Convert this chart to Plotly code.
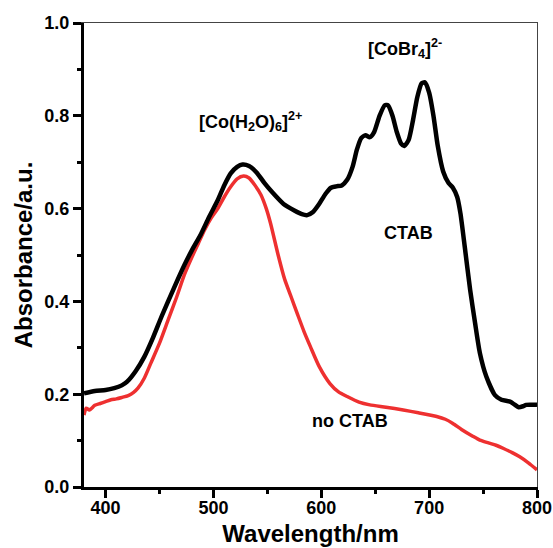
import plotly.graph_objects as go

# CTAB (black)
ctab_x = [380, 390, 400, 408, 415, 420, 428, 436, 444, 452, 464, 473, 480, 488, 496, 504, 510, 516, 522, 527,
          533, 540, 547, 555, 565, 575, 582, 587, 592, 598, 604, 609, 614, 619, 624, 629, 633, 637, 641, 645,
          649, 654, 659, 662, 666, 670, 674, 677, 681, 685, 689, 693, 696, 700, 704, 708, 713, 718, 722, 726,
          729, 733, 738, 742.6, 747, 753, 761, 767, 775, 779, 783, 787, 790, 800]
ctab_y = [0.202, 0.207, 0.209, 0.213, 0.219, 0.227, 0.25, 0.281, 0.322, 0.368, 0.432, 0.478, 0.51, 0.543, 0.582,
          0.618, 0.65, 0.676, 0.690, 0.695, 0.692, 0.678, 0.656, 0.634, 0.610, 0.596, 0.588, 0.586, 0.592, 0.61,
          0.632, 0.645, 0.648, 0.65, 0.662, 0.69, 0.727, 0.752, 0.758, 0.754, 0.765, 0.80, 0.823, 0.822, 0.800,
          0.765, 0.740, 0.735, 0.748, 0.79, 0.84, 0.870, 0.872, 0.850, 0.800, 0.735, 0.680, 0.655, 0.645, 0.625,
          0.59, 0.518, 0.425, 0.353, 0.289, 0.238, 0.198, 0.188, 0.184, 0.178, 0.172, 0.174, 0.177, 0.177]

# no CTAB (red)
noctab_x = [380, 382, 385, 390, 395, 400, 405, 410, 415, 421, 426, 430, 436, 442, 450, 458, 466, 473, 480, 486,
            492, 498, 504, 510, 516, 522, 528, 533, 538, 544, 549, 553, 560, 566, 572, 578, 584, 590, 598, 608,
            616, 624, 635, 645, 660, 676, 690, 707, 715, 722, 730, 740, 747, 755, 762, 769, 777, 784, 792, 800]
noctab_y = [0.155, 0.170, 0.166, 0.176, 0.180, 0.184, 0.188, 0.190, 0.193, 0.197, 0.204, 0.213, 0.235, 0.267,
            0.31, 0.36, 0.41, 0.457, 0.495, 0.525, 0.555, 0.58, 0.60, 0.625, 0.647, 0.664, 0.670, 0.666, 0.652,
            0.630, 0.60, 0.568, 0.50, 0.448, 0.41, 0.372, 0.335, 0.302, 0.26, 0.223, 0.205, 0.195, 0.183, 0.177,
            0.172, 0.166, 0.160, 0.152, 0.146, 0.137, 0.124, 0.110, 0.101, 0.095, 0.090, 0.083, 0.074, 0.065,
            0.052, 0.037]

x_ticks = [400, 500, 600, 700, 800]
y_ticks = [0.0, 0.2, 0.4, 0.6, 0.8, 1.0]
y_tick_labels = ["0.0", "0.2", "0.4", "0.6", "0.8", "1.0"]

FONT = "Liberation Sans"

fig = go.Figure()
fig.add_trace(go.Scatter(x=noctab_x, y=noctab_y, mode="lines", name="no CTAB",
                         line=dict(color="#ee3030", width=3.5, shape="spline", smoothing=0.6)))
fig.add_trace(go.Scatter(x=ctab_x, y=ctab_y, mode="lines", name="CTAB",
                         line=dict(color="black", width=4.5, shape="spline", smoothing=0.6)))
# invisible trace on mirror axes for thin top/right frame
fig.add_trace(go.Scatter(x=[380], y=[0], xaxis="x2", yaxis="y2", mode="markers",
                         marker=dict(opacity=0), showlegend=False, hoverinfo="skip"))

ann_font = dict(family=FONT, size=18, color="black", weight="bold")
fig.add_annotation(x=534, y=0.787, text="[Co(H<sub>2</sub>O)<sub>6</sub>]<sup>2+</sup>",
                   showarrow=False, font=ann_font)
fig.add_annotation(x=678, y=0.946, text="[CoBr<sub>4</sub>]<sup>2-</sup>",
                   showarrow=False, font=ann_font)
fig.add_annotation(x=680.5, y=0.547, text="CTAB", showarrow=False, font=ann_font)
fig.add_annotation(x=627, y=0.142, text="no CTAB", showarrow=False, font=ann_font)

tick_font = dict(family=FONT, size=18, color="black", weight="bold")
title_font = dict(family=FONT, size=24, color="black", weight="bold")

fig.update_layout(
    width=553, height=548,
    margin=dict(l=84, r=16, t=23, b=61),
    paper_bgcolor="white", plot_bgcolor="white",
    showlegend=False,
    xaxis=dict(range=[380, 800], tickvals=x_ticks, ticks="outside", ticklen=8, tickwidth=2.5,
               tickcolor="black", showline=True, linecolor="black", linewidth=3, showgrid=False,
               zeroline=False, tickfont=tick_font, automargin=False, ticklabelstandoff=-6,
               minor=dict(dtick=50, tick0=350, ticks="outside", ticklen=4, tickwidth=2.5, tickcolor="black"),
               title=dict(text="Wavelength/nm", font=title_font, standoff=9)),
    yaxis=dict(range=[0, 1.0], tickvals=y_ticks, ticktext=y_tick_labels, ticks="outside", ticklen=8,
               tickwidth=2.5, tickcolor="black", showline=True, linecolor="black", linewidth=3,
               showgrid=False, zeroline=False, tickfont=tick_font, automargin=False,
               minor=dict(dtick=0.1, tick0=0, ticks="outside", ticklen=4, tickwidth=2.5, tickcolor="black"),
               title=dict(text="Absorbance/a.u.", font=title_font, standoff=5)),
    xaxis2=dict(overlaying="x", side="top", range=[380, 800], showline=True, linecolor="#444",
                linewidth=1, showticklabels=False, ticks="", showgrid=False, zeroline=False,
                automargin=False),
    yaxis2=dict(overlaying="y", side="right", range=[0, 1.0], showline=True, linecolor="#444",
                linewidth=1, showticklabels=False, ticks="", showgrid=False, zeroline=False,
                automargin=False),
)

fig.write_html("out.html", config={"displayModeBar": False},
               post_script="document.body.style.margin='0';document.body.style.overflow='hidden';")
